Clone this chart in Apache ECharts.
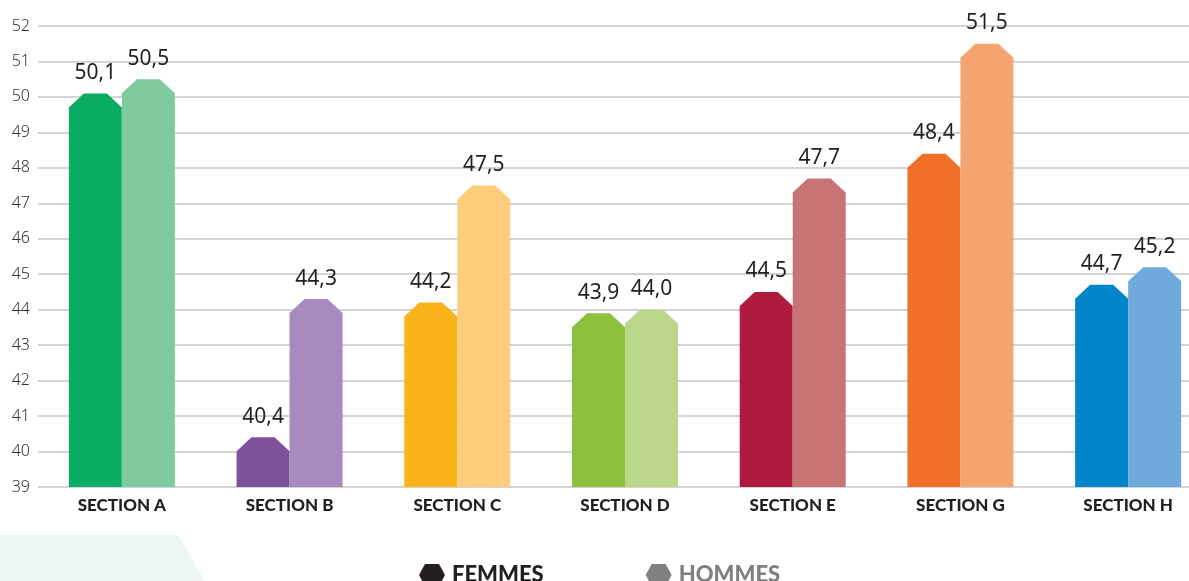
<!DOCTYPE html>
<html>
<head>
<meta charset="utf-8">
<script src="https://cdn.jsdelivr.net/npm/echarts@6/dist/echarts.min.js"></script>
<style>
html,body{margin:0;padding:0;background:#fff;}
#c{width:1189px;height:581px;}
</style>
</head>
<body>
<div id="c"></div>
<script>
const categories = ['SECTION A','SECTION B','SECTION C','SECTION D','SECTION E','SECTION G','SECTION H'];
const femmes = [50.1, 40.4, 44.2, 43.9, 44.5, 48.4, 44.7];
const hommes = [50.5, 44.3, 47.5, 44.0, 47.7, 51.5, 45.2];
const femmesColors = ['#0aab63','#7f519b','#fbb31b','#8dc03f','#ae1b3e','#f07027','#0186c9'];
const hommesColors = ['#7fca9e','#a88bbe','#fdcd7c','#bad689','#c97474','#f6a46f','#6eaadb'];
const seriesNames = ['FEMMES','HOMMES'];
const legendColors = ['#231f20','#808080'];
const yMin = 39, yMax = 52, yStep = 1;

const chart = echarts.init(document.getElementById('c'));
const hex = 'path://M6,0 L20,0 L26,11 L20,22 L6,22 L0,11 Z';

function makeRender(colors, isRight) {
  return function (params, api) {
    const cat = api.value(0), val = api.value(1);
    const top = api.coord([cat, val]);
    const base = api.coord([cat, yMin]);
    const w = 53, cx = 15, cy = 14;
    const x0 = isRight ? top[0] : top[0] - w;
    const x1 = x0 + w;
    const y = top[1];
    return {
      type: 'group',
      children: [
        {
          type: 'polygon',
          shape: { points: [[x0, base[1]], [x0, y + cy], [x0 + cx, y], [x1 - cx, y], [x1, y + cy], [x1, base[1]]] },
          style: { fill: colors[params.dataIndex] }
        },
        {
          type: 'text',
          x: (x0 + x1) / 2,
          y: y - 10,
          style: {
            text: val.toFixed(1).replace('.', ','),
            fill: '#231f20',
            font: '21px "Noto Sans", sans-serif',
            align: 'center',
            verticalAlign: 'bottom'
          }
        }
      ]
    };
  };
}

chart.setOption({
  animation: false,
  backgroundColor: '#fff',
  graphic: [{
    type: 'polygon', silent: true, z: -10,
    shape: { points: [[0, 535], [178, 535], [205, 581], [0, 581]] },
    style: { fill: '#eef6f4' }
  }],
  grid: { left: 38, width: 1174, top: 26, bottom: 94, outerBoundsMode: 'none', containLabel: false },
  legend: {
    left: 414, top: 559,
    itemWidth: 26, itemHeight: 22, itemGap: 102,
    textStyle: { fontSize: 22, fontWeight: 900, fontFamily: 'Lato, sans-serif', padding: [0, 0, 0, 2] },
    data: [
      { name: seriesNames[0], icon: hex, textStyle: { color: legendColors[0] } },
      { name: seriesNames[1], icon: hex, textStyle: { color: legendColors[1] } }
    ]
  },
  xAxis: {
    type: 'category',
    data: categories,
    axisLine: { show: false },
    axisTick: { show: false },
    axisLabel: { margin: 10, color: '#231f20', fontSize: 17, fontWeight: 900, fontFamily: 'Lato, sans-serif' }
  },
  yAxis: {
    type: 'value',
    min: yMin, max: yMax, interval: yStep,
    axisLine: { show: false },
    axisTick: { show: false },
    axisLabel: { margin: 8, color: '#333', fontSize: 16, fontFamily: '"Noto Sans", sans-serif', fontWeight: 300 },
    splitLine: { lineStyle: { color: '#c4c4c4', width: 1.5 } }
  },
  series: [
    {
      name: seriesNames[0], type: 'custom',
      itemStyle: { color: legendColors[0] },
      renderItem: makeRender(femmesColors, false),
      encode: { x: 0, y: 1 },
      data: femmes.map((v, i) => [i, v])
    },
    {
      name: seriesNames[1], type: 'custom',
      itemStyle: { color: legendColors[1] },
      renderItem: makeRender(hommesColors, true),
      encode: { x: 0, y: 1 },
      data: hommes.map((v, i) => [i, v])
    }
  ]
});
</script>
</body>
</html>
